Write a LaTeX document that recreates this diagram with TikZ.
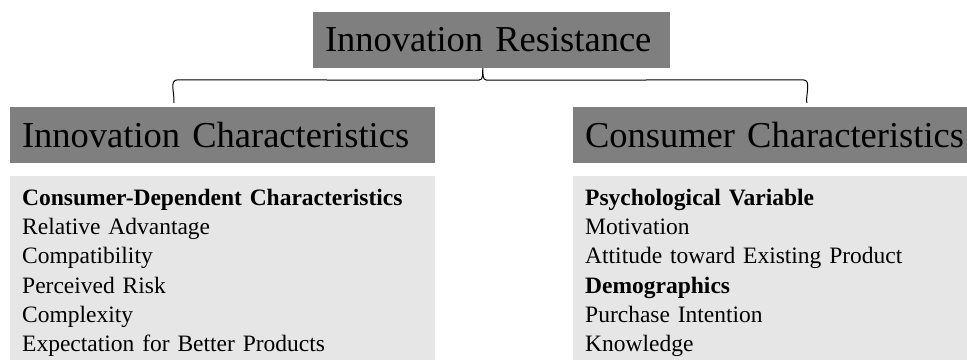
\documentclass[tikz,border=0pt]{standalone}
\usepackage{fontspec}
\setmainfont{Liberation Serif}
\usetikzlibrary{calc}

\definecolor{headgray}{HTML}{7F7F7F}
\definecolor{boxgray}{HTML}{E6E6E6}

\begin{document}
\begin{tikzpicture}[x=1pt, y=1pt,
    head/.style={fill=headgray, inner xsep=12pt, inner ysep=0pt, minimum height=56pt,
        align=left, font=\fontsize{36.5}{40}\selectfont},
    itemlist/.style={fill=boxgray, inner xsep=12pt, inner ysep=13pt, anchor=north west,
        text width=401pt, align=left, font=\fontsize{23.5}{29.2}\selectfont},
    brace/.style={line width=1pt, line join=round}]

    \useasboundingbox (0,0) rectangle (967,-359);

    % Main heading on top
    \node[head, text width=333pt] (top) at (491.5,-40) {Innovation Resistance};

    % The two groups below it
    \node[head, text width=401pt] (ich) at (222.5,-135) {Innovation Characteristics};
    \node[head, text width=401pt] (cch) at (785.5,-135) {Consumer Characteristics};

    % Items of each group
    \node[itemlist] (ilist) at (10,-176) {\textbf{Consumer-Dependent Characteristics}\\
        Relative Advantage\\
        Compatibility\\
        Perceived Risk\\
        Complexity\\
        Expectation for Better Products};
    \node[itemlist] (clist) at (573,-176) {\textbf{Psychological Variable}\\
        Motivation\\
        Attitude toward Existing Product\\
        \textbf{Demographics}\\
        Purchase Intention\\
        Knowledge};

    % Brace from the heading down to both groups
    \coordinate (tip) at ($(top.south west)+(170,0)$);
    \coordinate (lend) at ($(ich.north west)+(164,4)$);
    \coordinate (rend) at ($(cch.north west)+(234,4)$);
    \draw[brace] (lend) to[out=82,in=180] ++(4,23) -- ($(tip)+(-4,-12)$)
        to[out=0,in=-95] (tip) to[out=-85,in=180] ($(tip)+(4,-12)$)
        -- ($(rend)+(-4,23)$) to[out=0,in=98] (rend);

\end{tikzpicture}
\end{document}
